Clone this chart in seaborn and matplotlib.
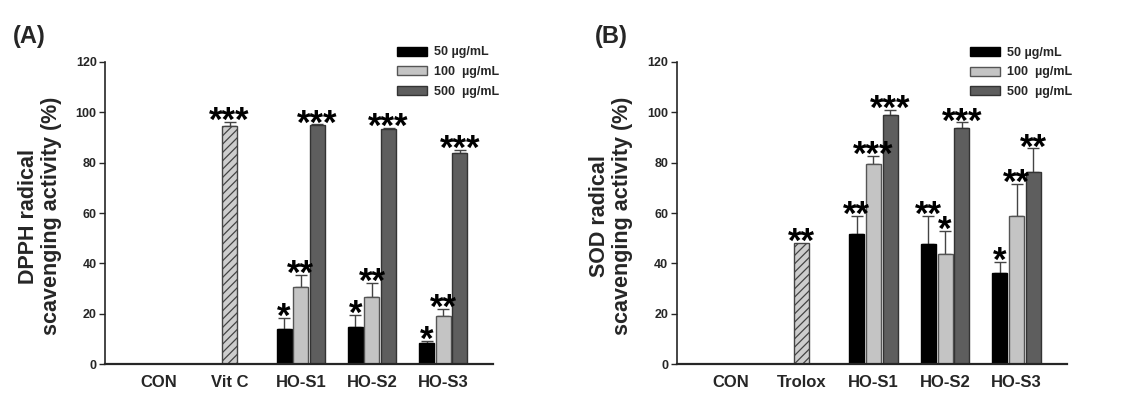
import numpy as np
import pandas as pd
import matplotlib
matplotlib.use("Agg")
import matplotlib.pyplot as plt
import seaborn as sns
from matplotlib.patches import Patch

# ---------------- data ----------------
samples = ["HO-S1", "HO-S2", "HO-S3"]
concentrations = ["50 µg/mL", "100  µg/mL", "500  µg/mL"]

# Panel A: DPPH
cats_a = ["CON", "Vit C", "HO-S1", "HO-S2", "HO-S3"]
ctrl_a_name = "Vit C"
ctrl_a_val = 94.5
ctrl_a_err = 1.7
ctrl_a_star = "***"
dpph_50 = [14.0, 14.7, 8.6]
dpph_100 = [30.6, 26.8, 19.2]
dpph_500 = [94.8, 93.5, 83.6]
dpph_50_err = [4.3, 4.9, 0.8]
dpph_100_err = [4.7, 5.5, 2.6]
dpph_500_err = [0.3, 0.3, 1.3]
dpph_50_stars = ["*", "*", "*"]
dpph_100_stars = ["**", "**", "**"]
dpph_500_stars = ["***", "***", "***"]

# Panel B: SOD
cats_b = ["CON", "Trolox", "HO-S1", "HO-S2", "HO-S3"]
ctrl_b_name = "Trolox"
ctrl_b_val = 48.3
ctrl_b_err = 0.0
ctrl_b_star = "**"
sod_50 = [51.6, 47.7, 36.2]
sod_100 = [79.4, 43.8, 59.0]
sod_500 = [99.0, 93.8, 76.3]
sod_50_err = [7.4, 11.0, 4.5]
sod_100_err = [3.4, 9.1, 12.4]
sod_500_err = [1.9, 2.1, 9.3]
sod_50_stars = ["**", "**", "*"]
sod_100_stars = ["***", "*", "**"]
sod_500_stars = ["***", "***", "**"]

# ---------------- style ----------------
sns.set_style("ticks")
plt.rcParams["font.family"] = ["Liberation Sans", "DejaVu Sans"]
plt.rcParams["hatch.linewidth"] = 0.9

face_colors = ["#000000", "#c4c4c4", "#5e5e5e"]
edge_colors = ["#000000", "#555555", "#333333"]
W = 0.70
GAP = 0.1

fig = plt.figure(figsize=(11.39, 4.0), dpi=100)
ax_a = fig.add_axes([105 / 1139, 1 - 364.3 / 400, 388 / 1139, 302.6 / 400])
ax_b = fig.add_axes([676.7 / 1139, 1 - 364.3 / 400, 390 / 1139, 302.6 / 400])


def panel(ax, cats, ctrl_name, ctrl_val, ctrl_err, ctrl_star,
          vals, errs, stars, ylabel, legend_xy):
    rows = []
    for j, conc in enumerate(concentrations):
        for k, s in enumerate(samples):
            rows.append(dict(cat=s, conc=conc, val=vals[j][k]))
    df = pd.DataFrame(rows)
    sns.barplot(data=df, x="cat", y="val", hue="conc", order=cats,
                hue_order=concentrations, palette=face_colors, saturation=1,
                width=W, gap=GAP, errorbar=None, linewidth=1.0,
                legend=False, ax=ax)
    for cont, ec in zip(ax.containers, edge_colors):
        for bar in cont:
            bar.set_edgecolor(ec)
    # positive control (hatched)
    sns.barplot(x=[ctrl_name], y=[ctrl_val], order=cats, color="#cdcdcd",
                saturation=1, width=W / 3, gap=GAP, errorbar=None,
                edgecolor="#444444", linewidth=1.0, hatch="////", ax=ax)

    star_kw = dict(textcoords="offset points", xytext=(0, -6.5), ha="center",
                   va="baseline", fontsize=25, fontweight="bold",
                   color="black", zorder=5)
    ci = cats.index(ctrl_name)
    if ctrl_err > 0:
        ax.errorbar([ci], [ctrl_val], yerr=[[0], [ctrl_err]], fmt="none",
                    ecolor="#444444", elinewidth=1, capsize=4.3, capthick=1,
                    zorder=0.5)
    ax.annotate(ctrl_star, (ci, ctrl_val + ctrl_err), **star_kw)

    for j in range(len(concentrations)):
        xs = [cats.index(s) + (j - 1) * W / 3 for s in samples]
        ax.errorbar(xs, vals[j], yerr=[np.zeros(len(xs)), errs[j]], fmt="none",
                    ecolor="#444444", elinewidth=1, capsize=4.3, capthick=1,
                    zorder=0.5)
        for x, v, e, st in zip(xs, vals[j], errs[j], stars[j]):
            ax.annotate(st, (x, v + e), **star_kw)

    ax.set_xlim(-0.75, 4.7)
    ax.set_ylim(0, 120)
    ax.set_yticks(np.arange(0, 121, 20))
    ax.set_xlabel("")
    ax.set_ylabel(ylabel, fontsize=15.5, fontweight="bold", linespacing=1.12)
    ax.yaxis.set_label_coords(-0.112, 0.49)
    for lab in ax.get_yticklabels():
        lab.set_fontweight("bold")
        lab.set_fontsize(9)
    for lab in ax.get_xticklabels():
        lab.set_fontweight("bold")
        lab.set_fontsize(12)
    ax.tick_params(axis="x", length=0, pad=8)
    ax.tick_params(axis="y", length=4, width=1, pad=2)
    sns.despine(ax=ax)
    ax.spines["bottom"].set_linewidth(1.6)
    ax.spines["left"].set_linewidth(1.2)

    handles = [Patch(facecolor=fc, edgecolor=ec, linewidth=1)
               for fc, ec in zip(face_colors, edge_colors)]
    ax.legend(handles, concentrations, loc="upper left",
              bbox_to_anchor=legend_xy, bbox_transform=fig.transFigure,
              frameon=False, borderpad=0, borderaxespad=0, handlelength=2.4,
              handleheight=0.7, handletextpad=0.55, labelspacing=0.6,
              prop=dict(weight="bold", size=9))


panel(ax_a, cats_a, ctrl_a_name, ctrl_a_val, ctrl_a_err, ctrl_a_star,
      [dpph_50, dpph_100, dpph_500], [dpph_50_err, dpph_100_err, dpph_500_err],
      [dpph_50_stars, dpph_100_stars, dpph_500_stars],
      "DPPH radical\nscavenging activity (%)", (397 / 1139, 1 - 46.5 / 400))
panel(ax_b, cats_b, ctrl_b_name, ctrl_b_val, ctrl_b_err, ctrl_b_star,
      [sod_50, sod_100, sod_500], [sod_50_err, sod_100_err, sod_500_err],
      [sod_50_stars, sod_100_stars, sod_500_stars],
      "SOD radical\nscavenging activity (%)", (970 / 1139, 1 - 47 / 400))

fig.text(13 / 1139, 1 - 36 / 400, "(A)", ha="left", va="center",
         fontsize=17, fontweight="bold")
fig.text(595 / 1139, 1 - 36 / 400, "(B)", ha="left", va="center",
         fontsize=17, fontweight="bold")

fig.savefig("out.png", dpi=100)
